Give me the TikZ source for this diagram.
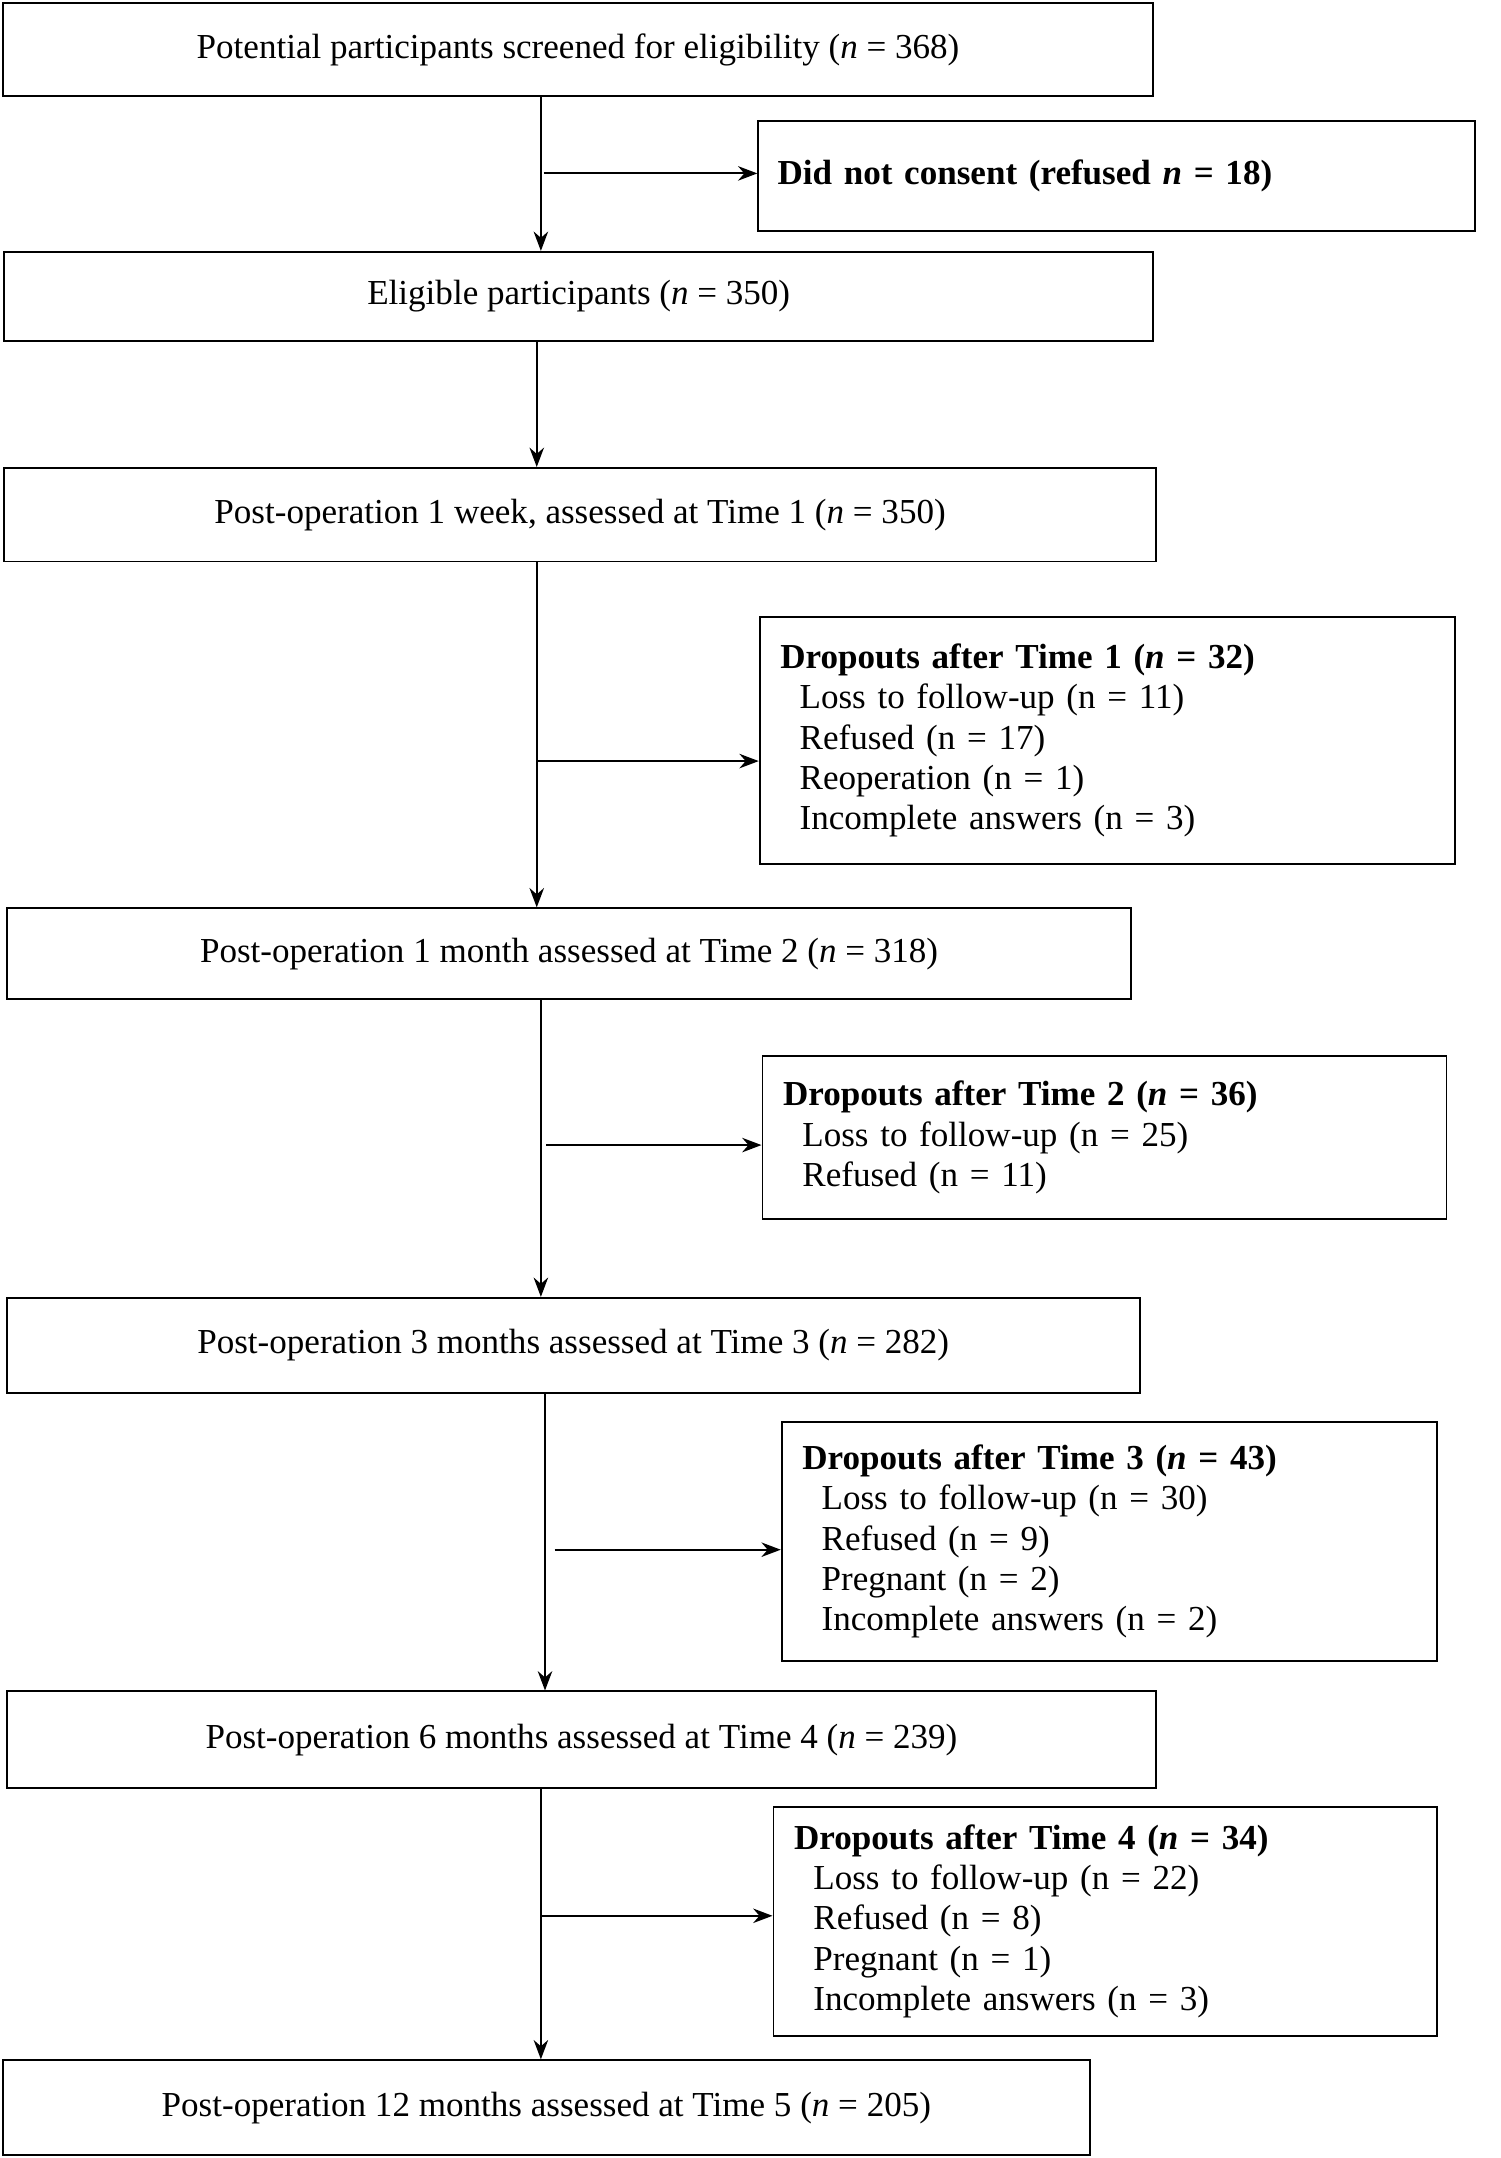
\documentclass[tikz,border=0pt]{standalone}
\usepackage{fontspec}
\setmainfont{Liberation Serif}
\usetikzlibrary{arrows.meta}
\begin{document}
\fontsize{14.5pt}{16.6pt}\selectfont
\begin{tikzpicture}[x=0.02cm,y=-0.02cm,
    % unified styles
    main_box/.style={draw,line width=0.8pt,inner sep=0pt,align=center},
    side_box/.style={draw,line width=0.8pt,inner xsep=0.3cm,inner ysep=0pt,align=left},
    arr/.style={line width=0.8pt,-{Stealth[length=8pt,width=6pt]}}
]
    \useasboundingbox (0,0) rectangle (1090,1568);

    % --- main column ---
    \node[main_box,minimum width=836*0.02cm,minimum height=68*0.02cm] (B0) at (420,36)
        {Potential participants screened for eligibility (\textit{n} = 368)};
    \node[main_box,minimum width=835*0.02cm,minimum height=65*0.02cm] (B1) at (420.5,215.5)
        {Eligible participants (\textit{n} = 350)};
    \node[main_box,minimum width=837*0.02cm,minimum height=68*0.02cm] (B2) at (421.5,374)
        {Post-operation 1 week, assessed at Time 1 (\textit{n} = 350)};
    \node[main_box,minimum width=817*0.02cm,minimum height=66*0.02cm] (B3) at (413.5,693)
        {Post-operation 1 month assessed at Time 2 (\textit{n} = 318)};
    \node[main_box,minimum width=823*0.02cm,minimum height=69*0.02cm] (B4) at (416.5,977.5)
        {Post-operation 3 months assessed at Time 3 (\textit{n} = 282)};
    \node[main_box,minimum width=835*0.02cm,minimum height=70*0.02cm] (B5) at (422.5,1264)
        {Post-operation 6 months assessed at Time 4 (\textit{n} = 239)};
    \node[main_box,minimum width=790*0.02cm,minimum height=69*0.02cm] (B6) at (397,1531.5)
        {Post-operation 12 months assessed at Time 5 (\textit{n} = 205)};

    % --- side boxes ---
    \node[side_box,text width=493*0.02cm,minimum height=80*0.02cm,inner xsep=0.28cm] (R0) at (811.5,128)
        {\textbf{Did not consent (refused \textit{n} = 18)}};
    \node[side_box,text width=475*0.02cm,minimum height=180*0.02cm] (R1) at (804.5,538)
        {\textbf{Dropouts after Time 1 (\textit{n} = 32)}\\
         \hspace*{0.28cm}Loss to follow-up (n = 11)\\
         \hspace*{0.28cm}Refused (n = 17)\\
         \hspace*{0.28cm}Reoperation (n = 1)\\
         \hspace*{0.28cm}Incomplete answers (n = 3)};
    \node[side_box,text width=467*0.02cm,minimum height=119*0.02cm] (R2) at (802.5,826.5)
        {\textbf{Dropouts after Time 2 (\textit{n} = 36)}\\
         \hspace*{0.28cm}Loss to follow-up (n = 25)\\
         \hspace*{0.28cm}Refused (n = 11)};
    \node[side_box,text width=446*0.02cm,minimum height=174*0.02cm] (R3) at (806,1120)
        {\textbf{Dropouts after Time 3 (\textit{n} = 43)}\\
         \hspace*{0.28cm}Loss to follow-up (n = 30)\\
         \hspace*{0.28cm}Refused (n = 9)\\
         \hspace*{0.28cm}Pregnant (n = 2)\\
         \hspace*{0.28cm}Incomplete answers (n = 2)};
    \node[side_box,text width=452*0.02cm,minimum height=166*0.02cm] (R4) at (803,1396)
        {\textbf{Dropouts after Time 4 (\textit{n} = 34)}\\
         \hspace*{0.28cm}Loss to follow-up (n = 22)\\
         \hspace*{0.28cm}Refused (n = 8)\\
         \hspace*{0.28cm}Pregnant (n = 1)\\
         \hspace*{0.28cm}Incomplete answers (n = 3)};

    % --- connectors ---
    \coordinate (v0) at (393,0);
    \coordinate (v1) at (390,0);
    \coordinate (v2) at (390,0);
    \coordinate (v3) at (393,0);
    \coordinate (v4) at (396,0);
    \coordinate (v5) at (393,0);
    \draw[arr] (B0.south -| v0) -- (B1.north -| v0);
    \draw[arr] (B1.south -| v1) -- (B2.north -| v1);
    \draw[arr] (B2.south -| v2) -- (B3.north -| v2);
    \draw[arr] (B3.south -| v3) -- (B4.north -| v3);
    \draw[arr] (B4.south -| v4) -- (B5.north -| v4);
    \draw[arr] (B5.south -| v5) -- (B6.north -| v5);

    \coordinate (h0) at (395,126);
    \coordinate (h1) at (390,553);
    \coordinate (h2) at (397,832);
    \coordinate (h3) at (403,1126);
    \coordinate (h4) at (393,1392);
    \draw[arr] (h0) -- (R0.west |- h0);
    \draw[arr] (h1) -- (R1.west |- h1);
    \draw[arr] (h2) -- (R2.west |- h2);
    \draw[arr] (h3) -- (R3.west |- h3);
    \draw[arr] (h4) -- (R4.west |- h4);
\end{tikzpicture}
\end{document}
